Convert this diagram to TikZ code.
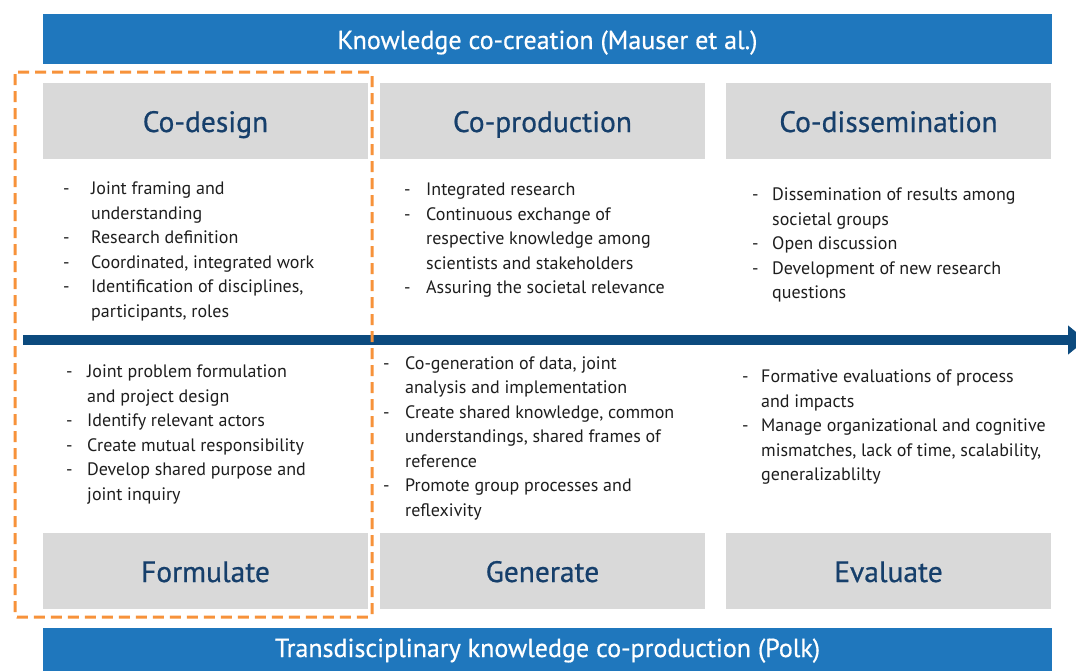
\documentclass[tikz,border=0pt]{standalone}
\usepackage{fontspec}
\setmainfont{PT Sans}
\newfontfamily\headfont[FakeBold=0.6]{PT Sans}
\usetikzlibrary{arrows.meta}
\definecolor{bannerblue}{HTML}{1F77BD}
\definecolor{navy}{HTML}{0C4A7E}
\definecolor{headgray}{HTML}{D9D9D9}
\definecolor{headtext}{HTML}{163F6B}
\definecolor{bodytext}{HTML}{1E1E1E}
\definecolor{dashorange}{HTML}{F7923A}
\newcommand{\itm}[2]{\makebox[#1][l]{-}#2}
\newcommand{\cnt}[2]{\hspace*{#1}#2}
\begin{document}
\begin{tikzpicture}[x=1pt,y=-1pt,
  banner/.style={fill=bannerblue,draw=none,text=white,font=\headfont\fontsize{26}{30}\selectfont,inner sep=0pt},
  headbox/.style={fill=headgray,draw=none,text=headtext,font=\headfont\fontsize{29.5}{32}\selectfont,inner sep=0pt,text height=24pt,text depth=2pt,minimum width=325pt,minimum height=76pt},
  itemlist/.style={anchor=north west,align=left,inner sep=0pt,text=bodytext,font=\fontsize{18}{24.5}\selectfont},
  flowarrow/.style={line width=10pt,draw=navy,-{Triangle[length=18pt,width=28pt]}},
  focus/.style={draw=dashorange,line width=3pt,dash pattern=on 11pt off 6pt,rounded corners=2pt}
]
\useasboundingbox (0,0) rectangle (1076,670);
\fill[white] (0,0) rectangle (1076,670);

% banners
\node[banner,minimum width=1009pt,minimum height=50pt,text height=22pt,text depth=2pt] (top) at (547.5,39) {Knowledge co-creation (Mauser et al.)};
\node[banner,minimum width=1009pt,minimum height=50pt,text height=14pt,text depth=6pt] (bot) at (547.5,653) {Transdisciplinary knowledge co-production (Polk)};

% header boxes
\node[headbox] (cd) at (205.5,121) {Co-design};
\node[headbox] (cp) at (542.5,121) {Co-production};
\node[headbox] (cs) at (888.5,121) {Co-dissemination};
\node[headbox] (fo) at (205.5,571) {Formulate};
\node[headbox] (ge) at (542.5,571) {Generate};
\node[headbox] (ev) at (888.5,571) {Evaluate};

% arrow
\coordinate (as) at (23,340);
\coordinate (ae) at (1086,340);
\draw[flowarrow] (as) -- (ae);

% upper lists
\node[itemlist] (l1) at (63,182) {%
\itm{28pt}{Joint framing and}\\
\cnt{28pt}{understanding}\\
\itm{28pt}{Research definition}\\
\itm{28pt}{Coordinated, integrated work}\\
\itm{28pt}{Identification of disciplines,}\\
\cnt{28pt}{participants, roles}};

\node[itemlist] (l2) at (404,183) {%
\itm{22pt}{Integrated research}\\
\itm{22pt}{Continuous exchange of}\\
\cnt{22pt}{respective knowledge among}\\
\cnt{22pt}{scientists and stakeholders}\\
\itm{22pt}{Assuring the societal relevance}};

\node[itemlist] (l3) at (752,188) {%
\itm{20pt}{Dissemination of results among}\\
\cnt{20pt}{societal groups}\\
\itm{20pt}{Open discussion}\\
\itm{20pt}{Development of new research}\\
\cnt{20pt}{questions}};

% lower lists
\node[itemlist] (l4) at (66,365) {%
\itm{21pt}{Joint problem formulation}\\
\cnt{21pt}{and project design}\\
\itm{21pt}{Identify relevant actors}\\
\itm{21pt}{Create mutual responsibility}\\
\itm{21pt}{Develop shared purpose and}\\
\cnt{21pt}{joint inquiry}};

\node[itemlist] (l5) at (383,356) {%
\itm{22pt}{Co-generation of data, joint}\\
\cnt{22pt}{analysis and implementation}\\
\itm{22pt}{Create shared knowledge, common}\\
\cnt{22pt}{understandings, shared frames of}\\
\cnt{22pt}{reference}\\
\itm{22pt}{Promote group processes and}\\
\cnt{22pt}{reflexivity}};

\node[itemlist] (l6) at (742,370) {%
\itm{19pt}{Formative evaluations of process}\\
\cnt{19pt}{and impacts}\\
\itm{19pt}{Manage organizational and cognitive}\\
\cnt{19pt}{mismatches, lack of time, scalability,}\\
\cnt{19pt}{generalizablilty}};

% focus frame
\coordinate (f1) at (15,72);
\coordinate (f2) at (372,617);
\draw[focus] (f1) rectangle (f2);
\end{tikzpicture}
\end{document}
